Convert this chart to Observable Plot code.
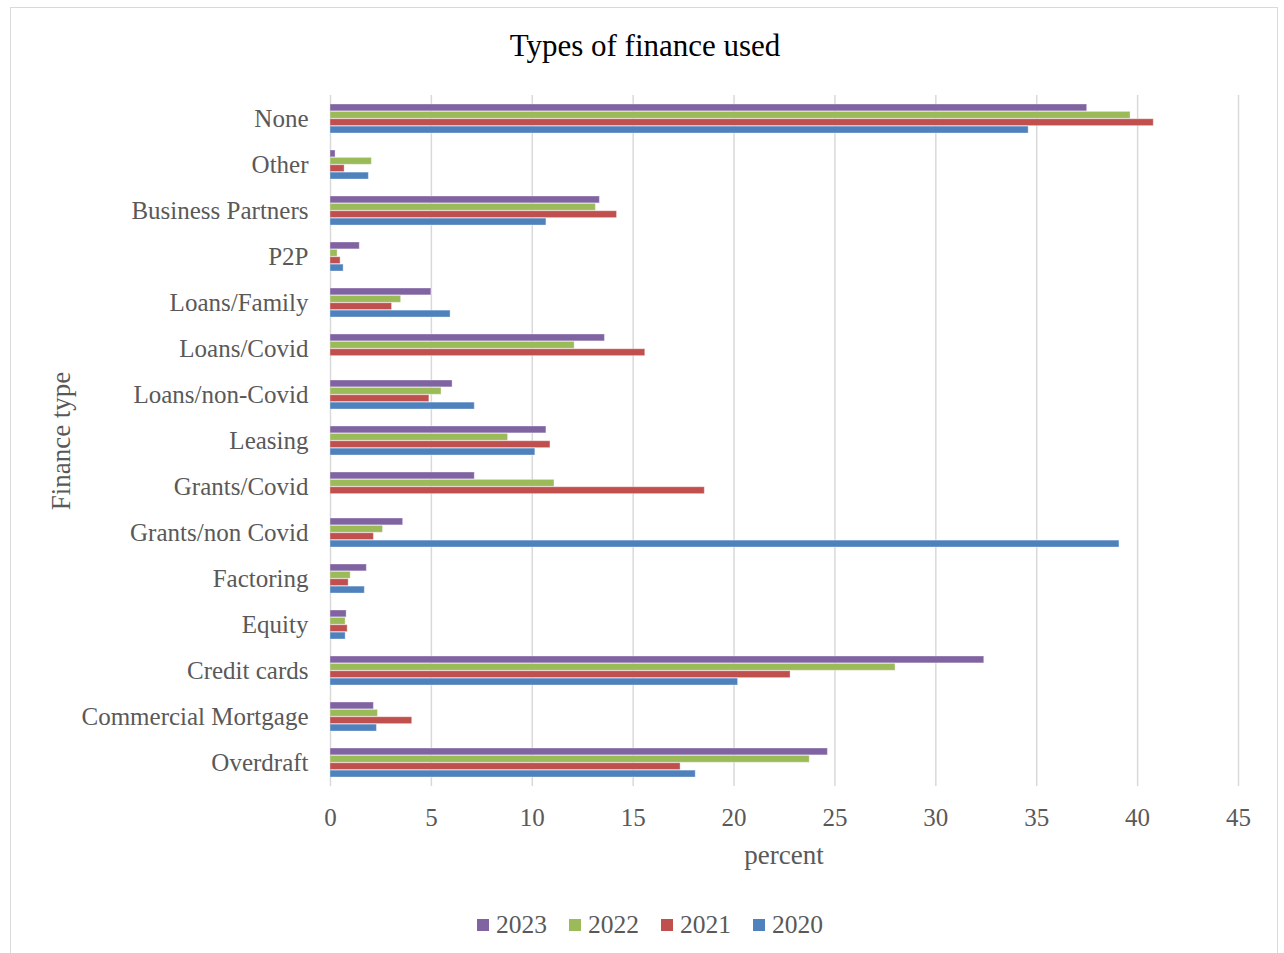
<!DOCTYPE html>
<html>
<head>
<meta charset="utf-8">
<script src="https://cdn.jsdelivr.net/npm/d3@7"></script>
<script src="https://cdn.jsdelivr.net/npm/@observablehq/plot@0.6"></script>
<style>
  html, body { margin: 0; padding: 0; background: #fff; }
  #wrap { position: relative; width: 1284px; height: 953px; overflow: hidden; background: #fff;
          font-family: "Liberation Serif", "DejaVu Serif", serif; color: #595959; }
  #frame { position: absolute; left: 10px; top: 7px; width: 1268px; height: 980px; border: 1.5px solid #d9d9d9; box-sizing: border-box; }
  #title { position: absolute; left: 0; width: 1290px; top: 30px; text-align: center; font-size: 31px; line-height: 1; color: #000; white-space: nowrap; }
  #xlabel { position: absolute; left: 330px; width: 908px; top: 842px; text-align: center; font-size: 27px; line-height: 1; white-space: nowrap; }
  #ylabel { position: absolute; left: 61px; top: 441px; font-size: 27px; line-height: 1; white-space: nowrap;
            transform: translate(-50%, -50%) rotate(-90deg); }
  #legend { position: absolute; left: 477px; top: 912px; display: flex; align-items: center; font-size: 25.5px; line-height: 1; }
  .item { display: flex; align-items: center; margin-right: 22px; }
  .sw { width: 12px; height: 12px; margin-right: 7px; }
  #chart { position: absolute; left: 0; top: 0; }
</style>
</head>
<body>
<div id="wrap">
  <div id="frame"></div>
  <div id="chart"></div>
  <div id="title"></div>
  <div id="xlabel"></div>
  <div id="ylabel"></div>
  <div id="legend"></div>
</div>
<script>
// ---- data ----
const chartTitle = "Types of finance used";
const xTitle = "percent";
const yTitle = "Finance type";
const types = ["None", "Other", "Business Partners", "P2P", "Loans/Family", "Loans/Covid",
  "Loans/non-Covid", "Leasing", "Grants/Covid", "Grants/non Covid", "Factoring", "Equity",
  "Credit cards", "Commercial Mortgage", "Overdraft"];
const years = ["2023", "2022", "2021", "2020"];
const v2023 = [37.5, 0.25, 13.35, 1.45, 5.0, 13.6, 6.05, 10.7, 7.15, 3.6, 1.8, 0.8, 32.4, 2.15, 24.65];
const v2022 = [39.65, 2.05, 13.15, 0.35, 3.5, 12.1, 5.5, 8.8, 11.1, 2.6, 1.0, 0.75, 28.0, 2.35, 23.75];
const v2021 = [40.8, 0.7, 14.2, 0.5, 3.05, 15.6, 4.9, 10.9, 18.55, 2.15, 0.9, 0.85, 22.8, 4.05, 17.35];
const v2020 = [34.6, 1.9, 10.7, 0.65, 5.95, null, 7.15, 10.15, null, 39.1, 1.7, 0.75, 20.2, 2.3, 18.1];
const xTicks = [0, 5, 10, 15, 20, 25, 30, 35, 40, 45];
const colors = ["#8064A2", "#9BBB59", "#C0504D", "#4F81BD"];

const series = [v2023, v2022, v2021, v2020];
const data = types.flatMap((t, i) => years.map((yr, j) => ({type: t, year: yr, value: series[j][i]})));

// ---- layout ----
const W = 1284, H = 880, mT = 95, mB = 94, mL = 330, mR = 46;
const padIn = 0.36;
const bandW = (H - mT - mB) / types.length * (1 - padIn);
const q = bandW / years.length;

const plot = Plot.plot({
  width: W, height: H,
  marginTop: mT, marginBottom: mB, marginLeft: mL, marginRight: mR,
  style: {fontFamily: "'Liberation Serif', 'DejaVu Serif', serif", fontSize: "25px", color: "#595959", background: "transparent", overflow: "visible"},
  x: {domain: [0, 45], ticks: xTicks, tickSize: 0, tickPadding: 22, label: null},
  y: {domain: types, paddingInner: padIn, paddingOuter: padIn / 2, tickSize: 0, tickPadding: 22, label: null},
  color: {domain: years, range: colors},
  marks: [
    Plot.gridX(xTicks, {stroke: "#d9d9d9", strokeOpacity: 1, strokeWidth: 1.5}),
    ...years.map((yr, j) => Plot.barX(data.filter(d => d.year === yr && d.value != null), {
      x: "value", y: "type", fill: "year",
      insetTop: j * q, insetBottom: (years.length - 1 - j) * q,
      stroke: "#ffffff", strokeOpacity: 0.35, strokeWidth: 1
    }))
  ]
});
document.getElementById("chart").appendChild(plot);

document.getElementById("title").textContent = chartTitle;
document.getElementById("xlabel").textContent = xTitle;
document.getElementById("ylabel").textContent = yTitle;

const legend = document.getElementById("legend");
years.forEach((yr, j) => {
  const it = document.createElement("div");
  it.className = "item";
  const sw = document.createElement("div");
  sw.className = "sw";
  sw.style.background = colors[j];
  const tx = document.createElement("span");
  tx.textContent = yr;
  it.appendChild(sw); it.appendChild(tx);
  legend.appendChild(it);
});
</script>
</body>
</html>
